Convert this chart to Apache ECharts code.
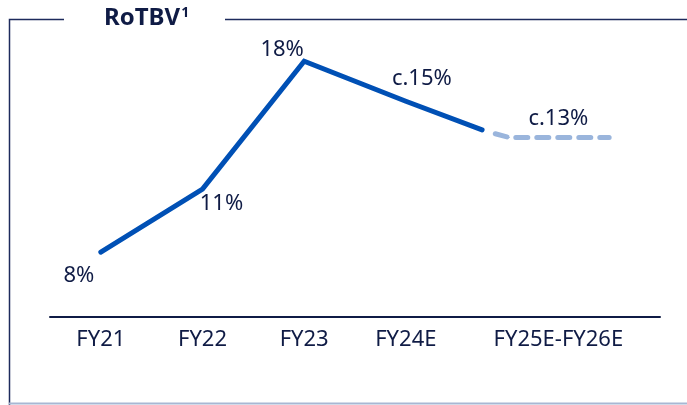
<!DOCTYPE html>
<html>
<head>
<meta charset="utf-8">
<script src="https://cdn.jsdelivr.net/npm/echarts@6/dist/echarts.min.js"></script>
<style>
  html, body { margin: 0; padding: 0; background: #fff; }
  #chart { width: 687px; height: 405px; }
</style>
</head>
<body>
<div id="chart"></div>
<script>
// category ticks sit at these x values (last one is a two-year range)
const categories = ["FY21", "FY22", "FY23", "FY24E", "FY25E-FY26E"];
const categoryPos = [0, 1, 2, 3, 4.5];

// solid line: reported / current outlook
const actualX = [0, 1, 2, 3, 3.75];
const actualY = [8, 11.3, 18, 15.9, 14.4];
const actualLabels = ["8%", "11%", "18%", "c.15%", ""];

// dashed line: medium-term target
const targetX = [3.88, 4.02, 4.5, 5.0];
const targetY = [14.2, 14.0, 14.0, 14.0];
const targetLabels = ["", "", "c.13%", ""];

const navy = "#0f1b45";
const font = "Noto Sans";

// per-point label nudges
const actualOffsets = [[-22, 24], [19, 15], [-22, -11], [16, -23], [0, 0]];
const targetOffsets = [[0, 0], [0, 0], [0, -19], [0, 0]];

const chart = echarts.init(document.getElementById("chart"));

const labelStyle = {
  show: true,
  position: "inside",
  color: navy,
  fontFamily: font,
  fontSize: 22,
};

const buildData = (xs, ys, labels, offsets) =>
  xs.map((x, i) => ({
    value: [x, ys[i]],
    label: Object.assign({}, labelStyle, {
      show: labels[i] !== "",
      formatter: labels[i],
      offset: offsets[i],
    }),
  }));

chart.setOption({
  animation: false,
  title: {
    text: "RoTBV{s|1}",
    left: 99,
    top: 1,
    textStyle: {
      color: navy,
      fontFamily: font,
      fontWeight: "bold",
      fontSize: 24,
      rich: {
        s: {
          color: navy,
          fontFamily: font,
          fontWeight: "bold",
          fontSize: 14,
          verticalAlign: "top",
          padding: [0, 0, 10, 1],
        },
      },
    },
  },
  graphic: [
    {
      type: "polyline",
      shape: { points: [[64, 19.5], [9.5, 19.5], [9.5, 405]] },
      style: { stroke: "#1d2b5c", lineWidth: 1.5, fill: null },
    },
    {
      type: "line",
      shape: { x1: 225, y1: 19.5, x2: 687, y2: 19.5 },
      style: { stroke: "#1d2b5c", lineWidth: 1.5 },
    },
    {
      type: "line",
      shape: { x1: 9, y1: 403.5, x2: 687, y2: 403.5 },
      style: { stroke: "#a8b7d3", lineWidth: 2 },
    },
  ],
  grid: {
    left: 50,
    right: 27,
    top: 23,
    bottom: 88,
  },
  xAxis: {
    type: "value",
    min: -0.5,
    max: 5.5,
    interval: 0.5,
    splitLine: { show: false },
    axisTick: { show: false },
    axisLine: { show: true, lineStyle: { color: navy, width: 2 } },
    axisLabel: {
      color: navy,
      fontFamily: font,
      fontSize: 22,
      margin: 12,
      formatter: (v) => {
        const i = categoryPos.findIndex((p) => Math.abs(p - v) < 1e-6);
        return i >= 0 ? categories[i] : "";
      },
    },
  },
  yAxis: {
    type: "value",
    min: 4.6,
    max: 20,
    show: false,
    splitLine: { show: false },
  },
  series: [
    {
      type: "line",
      data: buildData(actualX, actualY, actualLabels, actualOffsets),
      symbol: "circle",
      symbolSize: 1,
      itemStyle: { color: "#0050b5" },
      lineStyle: { color: "#0050b5", width: 5, cap: "round", join: "miter" },
      z: 3,
    },
    {
      type: "line",
      data: buildData(targetX, targetY, targetLabels, targetOffsets),
      symbol: "circle",
      symbolSize: 1,
      itemStyle: { color: "#9ab5dc" },
      lineStyle: {
        color: "#9ab5dc",
        width: 5,
        type: [12, 9],
        cap: "round",
        join: "round",
      },
      z: 2,
    },
  ],
});
</script>
</body>
</html>
